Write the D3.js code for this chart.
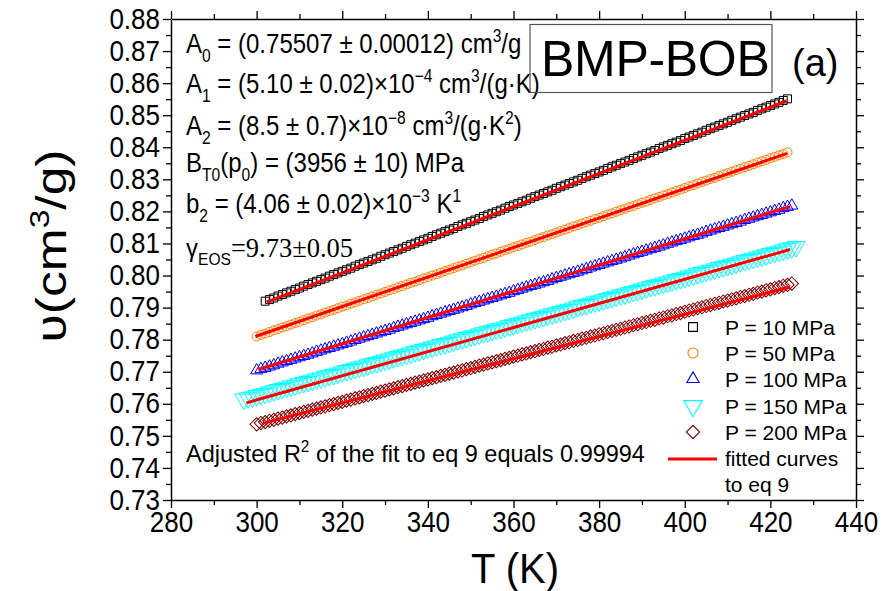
<!DOCTYPE html>
<html><head><meta charset="utf-8">
<script src="https://cdn.jsdelivr.net/npm/d3@7"></script>
<style>
body{margin:0;background:#fff;}
svg text{font-family:"Liberation Sans",Arial,sans-serif;fill:#000;}
</style></head><body>
<svg id="chart" width="884" height="591"></svg>
<script>
// ---------- data ----------
const temperatureK = [297,298,299,300,301,302,303,304,305,306,307,308,309,310,311,312,313,314,315,316,317,318,319,320,321,322,323,324,325,326,327,328,329,330,331,332,333,334,335,336,337,338,339,340,341,342,343,344,345,346,347,348,349,350,351,352,353,354,355,356,357,358,359,360,361,362,363,364,365,366,367,368,369,370,371,372,373,374,375,376,377,378,379,380,381,382,383,384,385,386,387,388,389,390,391,392,393,394,395,396,397,398,399,400,401,402,403,404,405,406,407,408,409,410,411,412,413,414,415,416,417,418,419,420,421,422,423,424,425,426];

const seriesLabels = ["P = 10 MPa","P = 50 MPa","P = 100 MPa","P = 150 MPa","P = 200 MPa"];
const seriesStartT = [302,300,300,297,300];

const v10 = [0.7920,0.7925,0.7930,0.7936,0.7941,0.7946,0.7951,0.7956,0.7961,0.7967,
0.7972,0.7977,0.7982,0.7987,0.7992,0.7998,0.8003,0.8008,0.8013,0.8018,
0.8023,0.8029,0.8034,0.8039,0.8044,0.8049,0.8054,0.8060,0.8065,0.8070,
0.8075,0.8080,0.8085,0.8091,0.8096,0.8101,0.8106,0.8111,0.8116,0.8122,
0.8127,0.8132,0.8137,0.8142,0.8147,0.8153,0.8158,0.8163,0.8168,0.8173,
0.8178,0.8184,0.8189,0.8194,0.8199,0.8204,0.8210,0.8215,0.8220,0.8225,
0.8230,0.8235,0.8241,0.8246,0.8251,0.8256,0.8261,0.8266,0.8272,0.8277,
0.8282,0.8287,0.8292,0.8297,0.8303,0.8308,0.8313,0.8318,0.8323,0.8328,
0.8334,0.8339,0.8344,0.8349,0.8354,0.8359,0.8365,0.8370,0.8375,0.8380,
0.8385,0.8390,0.8396,0.8401,0.8406,0.8411,0.8416,0.8421,0.8427,0.8432,
0.8437,0.8442,0.8447,0.8453,0.8458,0.8463,0.8468,0.8473,0.8478,0.8484,
0.8489,0.8494,0.8499,0.8504,0.8509,0.8515,0.8520,0.8525,0.8530,0.8535,
0.8540,0.8546,0.8551];

const v50 = [0.7810,0.7815,0.7819,0.7824,0.7829,0.7833,0.7838,0.7842,0.7847,0.7852,
0.7856,0.7861,0.7866,0.7870,0.7875,0.7879,0.7884,0.7889,0.7893,0.7898,
0.7903,0.7907,0.7912,0.7916,0.7921,0.7926,0.7930,0.7935,0.7940,0.7944,
0.7949,0.7954,0.7958,0.7963,0.7967,0.7972,0.7977,0.7981,0.7986,0.7991,
0.7995,0.8000,0.8004,0.8009,0.8014,0.8018,0.8023,0.8028,0.8032,0.8037,
0.8041,0.8046,0.8051,0.8055,0.8060,0.8065,0.8069,0.8074,0.8079,0.8083,
0.8088,0.8092,0.8097,0.8102,0.8106,0.8111,0.8116,0.8120,0.8125,0.8129,
0.8134,0.8139,0.8143,0.8148,0.8153,0.8157,0.8162,0.8167,0.8171,0.8176,
0.8180,0.8185,0.8190,0.8194,0.8199,0.8204,0.8208,0.8213,0.8217,0.8222,
0.8227,0.8231,0.8236,0.8241,0.8245,0.8250,0.8254,0.8259,0.8264,0.8268,
0.8273,0.8278,0.8282,0.8287,0.8292,0.8296,0.8301,0.8305,0.8310,0.8315,
0.8319,0.8324,0.8329,0.8333,0.8338,0.8342,0.8347,0.8352,0.8356,0.8361,
0.8366,0.8370,0.8375,0.8379,0.8384];

const v100 = [0.7704,0.7708,0.7712,0.7716,0.7720,0.7725,0.7729,0.7733,0.7737,0.7741,
0.7745,0.7749,0.7753,0.7757,0.7762,0.7766,0.7770,0.7774,0.7778,0.7782,
0.7786,0.7790,0.7794,0.7799,0.7803,0.7807,0.7811,0.7815,0.7819,0.7823,
0.7827,0.7831,0.7836,0.7840,0.7844,0.7848,0.7852,0.7856,0.7860,0.7864,
0.7868,0.7873,0.7877,0.7881,0.7885,0.7889,0.7893,0.7897,0.7901,0.7905,
0.7910,0.7914,0.7918,0.7922,0.7926,0.7930,0.7934,0.7938,0.7942,0.7946,
0.7951,0.7955,0.7959,0.7963,0.7967,0.7971,0.7975,0.7979,0.7983,0.7988,
0.7992,0.7996,0.8000,0.8004,0.8008,0.8012,0.8016,0.8020,0.8025,0.8029,
0.8033,0.8037,0.8041,0.8045,0.8049,0.8053,0.8057,0.8062,0.8066,0.8070,
0.8074,0.8078,0.8082,0.8086,0.8090,0.8094,0.8099,0.8103,0.8107,0.8111,
0.8115,0.8119,0.8123,0.8127,0.8131,0.8136,0.8140,0.8144,0.8148,0.8152,
0.8156,0.8160,0.8164,0.8168,0.8173,0.8177,0.8181,0.8185,0.8189,0.8193,
0.8197,0.8201,0.8205,0.8210,0.8214,0.8218];

const v150 = [0.7614,0.7618,0.7621,0.7625,0.7629,0.7632,0.7636,0.7640,0.7644,0.7647,
0.7651,0.7655,0.7658,0.7662,0.7666,0.7669,0.7673,0.7677,0.7680,0.7684,
0.7688,0.7691,0.7695,0.7699,0.7703,0.7706,0.7710,0.7714,0.7717,0.7721,
0.7725,0.7728,0.7732,0.7736,0.7739,0.7743,0.7747,0.7751,0.7754,0.7758,
0.7762,0.7765,0.7769,0.7773,0.7776,0.7780,0.7784,0.7787,0.7791,0.7795,
0.7799,0.7802,0.7806,0.7810,0.7813,0.7817,0.7821,0.7824,0.7828,0.7832,
0.7835,0.7839,0.7843,0.7846,0.7850,0.7854,0.7858,0.7861,0.7865,0.7869,
0.7872,0.7876,0.7880,0.7883,0.7887,0.7891,0.7894,0.7898,0.7902,0.7906,
0.7909,0.7913,0.7917,0.7920,0.7924,0.7928,0.7931,0.7935,0.7939,0.7942,
0.7946,0.7950,0.7953,0.7957,0.7961,0.7965,0.7968,0.7972,0.7976,0.7979,
0.7983,0.7987,0.7990,0.7994,0.7998,0.8001,0.8005,0.8009,0.8013,0.8016,
0.8020,0.8024,0.8027,0.8031,0.8035,0.8038,0.8042,0.8046,0.8049,0.8053,
0.8057,0.8060,0.8064,0.8068,0.8072,0.8075,0.8079,0.8083,0.8086,0.8090];

const v200 = [0.7536,0.7540,0.7543,0.7547,0.7550,0.7554,0.7557,0.7561,0.7564,0.7568,
0.7571,0.7575,0.7578,0.7582,0.7585,0.7589,0.7592,0.7596,0.7599,0.7603,
0.7606,0.7610,0.7613,0.7617,0.7620,0.7624,0.7627,0.7631,0.7634,0.7638,
0.7641,0.7645,0.7648,0.7652,0.7655,0.7659,0.7662,0.7666,0.7669,0.7673,
0.7676,0.7680,0.7683,0.7687,0.7690,0.7694,0.7697,0.7701,0.7704,0.7708,
0.7711,0.7715,0.7719,0.7722,0.7726,0.7729,0.7733,0.7736,0.7740,0.7743,
0.7747,0.7750,0.7754,0.7757,0.7761,0.7764,0.7768,0.7771,0.7775,0.7778,
0.7782,0.7785,0.7789,0.7792,0.7796,0.7799,0.7803,0.7806,0.7810,0.7813,
0.7817,0.7820,0.7824,0.7827,0.7831,0.7834,0.7838,0.7841,0.7845,0.7848,
0.7852,0.7855,0.7859,0.7862,0.7866,0.7869,0.7873,0.7876,0.7880,0.7883,
0.7887,0.7891,0.7894,0.7898,0.7901,0.7905,0.7908,0.7912,0.7915,0.7919,
0.7922,0.7926,0.7929,0.7933,0.7936,0.7940,0.7943,0.7947,0.7950,0.7954,
0.7957,0.7961,0.7964,0.7968,0.7971,0.7975];

// fitted curves (eq 9): end points
const fitStartT = [302.3, 299.7, 300.4, 297.6, 301.4];
const fitStartV = [0.7917, 0.7810, 0.7707, 0.7603, 0.7539];
const fitEndT   = [423.8, 423.9, 424.6, 424.6, 424.6];
const fitEndV   = [0.8545, 0.8381, 0.8215, 0.8081, 0.7964];

const xTicks = [280,300,320,340,360,380,400,420,440];
const yTicks = [0.73,0.74,0.75,0.76,0.77,0.78,0.79,0.80,0.81,0.82,0.83,0.84,0.85,0.86,0.87,0.88];

// ---------- setup ----------
const svg = d3.select("#chart");
const L = 171, R = 856, T = 19, B = 500;
const x = d3.scaleLinear().domain([280, 440]).range([L, R]);
const y = d3.scaleLinear().domain([0.73, 0.88]).range([B, T]);

const seriesValues = [v10, v50, v100, v150, v200];
const colors = ["#000000", "#ff8000", "#0000ff", "#00ffff", "#800000"];
const symbols = [
  {type: d3.symbolSquare, size: 64, rot: 0},
  {type: d3.symbolCircle, size: 64, rot: 0},
  {type: d3.symbolTriangle, size: 62, rot: 0},
  {type: d3.symbolTriangle, size: 140, rot: 180},
  {type: d3.symbolSquare, size: 88, rot: 45}
];
const legendSymbols = [
  {type: d3.symbolSquare, size: 78, rot: 0},
  {type: d3.symbolCircle, size: 80, rot: 0},
  {type: d3.symbolTriangle, size: 66, rot: 0},
  {type: d3.symbolTriangle, size: 150, rot: 180},
  {type: d3.symbolSquare, size: 88, rot: 45}
];

// ---------- data marks ----------
const plot = svg.append("g");
seriesValues.forEach((vals, s) => {
  const i0 = temperatureK.indexOf(seriesStartT[s]);
  const pts = vals.map((v, i) => ({t: temperatureK[i0 + i], v}));
  const sym = d3.symbol().type(symbols[s].type).size(symbols[s].size);
  plot.append("g").selectAll("path").data(pts).join("path")
    .attr("d", sym)
    .attr("transform", d => `translate(${x(d.t)},${y(d.v)}) rotate(${symbols[s].rot})`)
    .attr("fill", "none")
    .attr("stroke", colors[s])
    .attr("stroke-width", 1);
});

const line = d3.line().x(d => x(d[0])).y(d => y(d[1]));
seriesValues.forEach((_, s) => {
  plot.append("path")
    .attr("d", line([[fitStartT[s], fitStartV[s]], [fitEndT[s], fitEndV[s]]]))
    .attr("fill", "none").attr("stroke", "#ff0000").attr("stroke-width", 3);
});

// ---------- axes ----------
function styleAxis(g) {
  g.selectAll("path.domain").attr("stroke", "#000").attr("stroke-width", 1.5);
  g.selectAll("line").attr("stroke", "#000").attr("stroke-width", 1.3);
}
const xMinor = d3.range(290, 440, 20);
const yMinor = yTicks.slice(0, -1).map(v => +(v + 0.005).toFixed(3));

const gxb = svg.append("g").attr("transform", `translate(0,${B})`)
  .call(d3.axisBottom(x).tickValues(xTicks).tickSize(8).tickSizeOuter(0).tickPadding(3).tickFormat(d3.format("d")));
gxb.call(styleAxis);
gxb.selectAll("text").style("font-size", "26px").attr("transform", "scale(1,1.1)");
svg.append("g").attr("transform", `translate(0,${B})`)
  .call(d3.axisBottom(x).tickValues(xMinor).tickSize(5).tickFormat("")).call(styleAxis)
  .select("path.domain").remove();

const gxt = svg.append("g").attr("transform", `translate(0,${T})`)
  .call(d3.axisTop(x).tickValues(xTicks).tickSize(8).tickSizeOuter(0).tickFormat(""));
gxt.call(styleAxis);
svg.append("g").attr("transform", `translate(0,${T})`)
  .call(d3.axisTop(x).tickValues(xMinor).tickSize(5).tickFormat("")).call(styleAxis)
  .select("path.domain").remove();

const gyl = svg.append("g").attr("transform", `translate(${L},0)`)
  .call(d3.axisLeft(y).tickValues(yTicks).tickSize(8).tickSizeOuter(0).tickPadding(3).tickFormat(d3.format(".2f")));
gyl.call(styleAxis);
gyl.selectAll("text").style("font-size", "26px").attr("transform", "scale(1,1.1)");
svg.append("g").attr("transform", `translate(${L},0)`)
  .call(d3.axisLeft(y).tickValues(yMinor).tickSize(5).tickFormat("")).call(styleAxis)
  .select("path.domain").remove();

const gyr = svg.append("g").attr("transform", `translate(${R},0)`)
  .call(d3.axisRight(y).tickValues(yTicks).tickSize(8).tickSizeOuter(0).tickFormat(""));
gyr.call(styleAxis);
svg.append("g").attr("transform", `translate(${R},0)`)
  .call(d3.axisRight(y).tickValues(yMinor).tickSize(5).tickFormat("")).call(styleAxis)
  .select("path.domain").remove();

// ---------- text helper ----------
function richText(x0, y0, parts, size, opts = {}) {
  const sy = opts.sy || 1, sx = opts.sx || 1;
  const t = svg.append("text")
    .attr("transform", `translate(${x0},${y0})${opts.rot ? ` rotate(${opts.rot})` : ""} scale(${sx},${sy})`)
    .style("font-size", size + "px")
    .attr("text-anchor", opts.anchor || "start");
  if (opts.family) t.style("font-family", opts.family);
  let shift = 0;
  parts.forEach(p => {
    const [s, k, fam, fsize] = typeof p === "string" ? [p, "n"] : p;
    const target = k === "sub" ? size * 0.32 : k === "sup" ? -size * 0.4 : 0;
    const ts = t.append("tspan").attr("dy", target - shift).text(s);
    if (k !== "n") ts.style("font-size", (size * 0.65) + "px");
    if (fam) ts.style("font-family", fam);
    if (fsize) ts.style("font-size", fsize + "px");
    shift = target;
  });
  return t;
}

// axis titles
richText(515, 583, ["T (K)"], 40, {anchor: "middle", sy: 1.05});
richText(66, 246, ["υ(cm", ["3", "sup"], "/g)"], 43, {anchor: "middle", rot: -90, sx: 1.2});

// annotations
const AS = 24, ASY = 1.15;
richText(186, 53, ["A", ["0", "sub"], " = (0.75507 ± 0.00012) cm", ["3", "sup"], "/g"], AS, {sy: ASY});
richText(186, 93, ["A", ["1", "sub"], " = (5.10 ± 0.02)×10", ["−4", "sup"], " cm", ["3", "sup"], "/(g·K)"], AS, {sy: ASY});
richText(186, 135, ["A", ["2", "sub"], " = (8.5 ± 0.7)×10", ["−8", "sup"], " cm", ["3", "sup"], "/(g·K", ["2", "sup"], ")"], AS, {sy: ASY});
richText(186, 172, ["B", ["T0", "sub"], "(p", ["0", "sub"], ") = (3956 ± 10) MPa"], AS, {sy: ASY});
richText(186, 213, ["b", ["2", "sub"], " = (4.06 ± 0.02)×10", ["−3", "sup"], " K", ["1", "sup"]], AS, {sy: ASY});
richText(186, 257, ["γ", ["EOS", "sub"], ["=9.73±0.05", "n", "'Liberation Serif', serif", 26.5]], AS, {sy: 1.05});
richText(186, 462, ["Adjusted R", ["2", "sup"], " of the fit to eq 9 equals 0.99994"], 23.5, {sy: 1.05});

// title box
svg.append("rect").attr("x", 530).attr("y", 24.5).attr("width", 242).attr("height", 68)
  .attr("fill", "none").attr("stroke", "#555").attr("stroke-width", 1.2);
svg.append("text").attr("x", 541).attr("y", 76)
  .style("font-size", "50px").style("letter-spacing", "-0.3px").text("BMP-BOB");
svg.append("text").attr("x", 792).attr("y", 76).style("font-size", "38px").text("(a)");

// legend
const legRowY = [327, 353, 379, 406, 432];
seriesLabels.forEach((lab, s) => {
  const sym = d3.symbol().type(legendSymbols[s].type).size(legendSymbols[s].size);
  svg.append("path").attr("d", sym)
    .attr("transform", `translate(693,${legRowY[s]}) rotate(${legendSymbols[s].rot})`)
    .attr("fill", "none").attr("stroke", colors[s]).attr("stroke-width", 1.1);
  svg.append("text").attr("x", 725).attr("y", legRowY[s] + 8).style("font-size", "21px").text(lab);
});
svg.append("line").attr("x1", 668).attr("x2", 717).attr("y1", 459).attr("y2", 459)
  .attr("stroke", "#ff0000").attr("stroke-width", 3);
svg.append("text").attr("x", 725).attr("y", 466).style("font-size", "21px").text("fitted curves");
svg.append("text").attr("x", 725).attr("y", 492).style("font-size", "21px").text("to eq 9");
</script>
</body></html>
